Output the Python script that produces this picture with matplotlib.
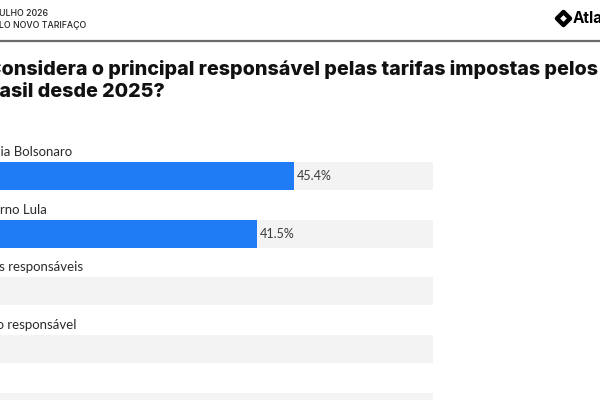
import matplotlib
matplotlib.use("Agg")
import matplotlib.pyplot as plt
from matplotlib.lines import Line2D
from matplotlib.patches import Polygon

# poll results (the picture is a cropped screenshot, so the text runs off the left edge)
header_lines = ["JULHO 2026", "PELO NOVO TARIFAÇO"]
question_lines = ["Considera o principal responsável pelas tarifas impostas pelos EUA ao",
                  "Brasil desde 2025?"]
options = ["Família Bolsonaro", "Governo Lula", "Todos responsáveis",
           "Outro responsável", "EUA"]
shares = [45.4, 41.5, 6.2, 3.1, 3.8]
track_max = 60

BLUE = "#1f7cf4"
TRACK = "#f3f3f3"
W, H = 600, 400


def main():
    fig = plt.figure(figsize=(6, 4), dpi=100)
    fig.patch.set_facecolor("white")

    # header
    for text, x, y in zip(header_lines, [-6, -12], [13, 26]):
        fig.text(x / W, 1 - y / H, text, fontsize=6.3, family="Inter",
                 fontweight="medium", color="#222222", va="center")
    fig.add_artist(Line2D([0, 1], [1 - 41 / H] * 2, color="#6b6b6b", lw=1.6,
                          transform=fig.transFigure))

    # logo
    cx, cy, r = 563.5 / W, 1 - 18.5 / H, 6.5
    logo = Polygon([(cx, cy + r / H), (cx + r / W, cy), (cx, cy - r / H), (cx - r / W, cy)],
                   closed=True, fill=False, lw=3.2, ec="black", joinstyle="round",
                   transform=fig.transFigure)
    fig.add_artist(logo)
    fig.text(573 / W, 1 - 18.5 / H, "Atlas", fontsize=11, family="Inter",
             fontweight="bold", color="black", va="center")

    # title, two lines
    for text, x, y in zip(question_lines, [-13, -22], [75, 97]):
        fig.text(x / W, 1 - y / H, text, fontsize=14.2, family="Inter",
                 fontweight=800, color="#111111", va="baseline")

    # bars
    ax = fig.add_axes([0, 0, 1, 1])
    px = 9.487  # pixels per percentage point
    x0 = 45.4 - 294 / px
    ax.set_xlim(x0, x0 + W / px)
    step = 57.7
    ax.set_ylim((H - 176) / step, -176 / step)
    ax.axis("off")

    ys = list(range(len(options)))
    bh = 28 / step
    ax.barh(ys, [track_max] * len(ys), height=bh, color=TRACK, zorder=1)
    ax.barh(ys, shares, height=bh, color=BLUE, zorder=2)

    label_x = x0 - 31 / px
    for y, name, v in zip(ys, options, shares):
        ax.text(label_x, y - bh / 2 - 6 / step, name, fontsize=9.5, family="Lato",
                color="#2b2b2b", va="baseline", ha="left")
        ax.text(v + 3 / px, y, f"{v:.1f}%", fontsize=9, family="Lato",
                color="#3a3a3a", va="center", ha="left")

    fig.savefig("out.png", dpi=100)


if __name__ == "__main__":
    main()
